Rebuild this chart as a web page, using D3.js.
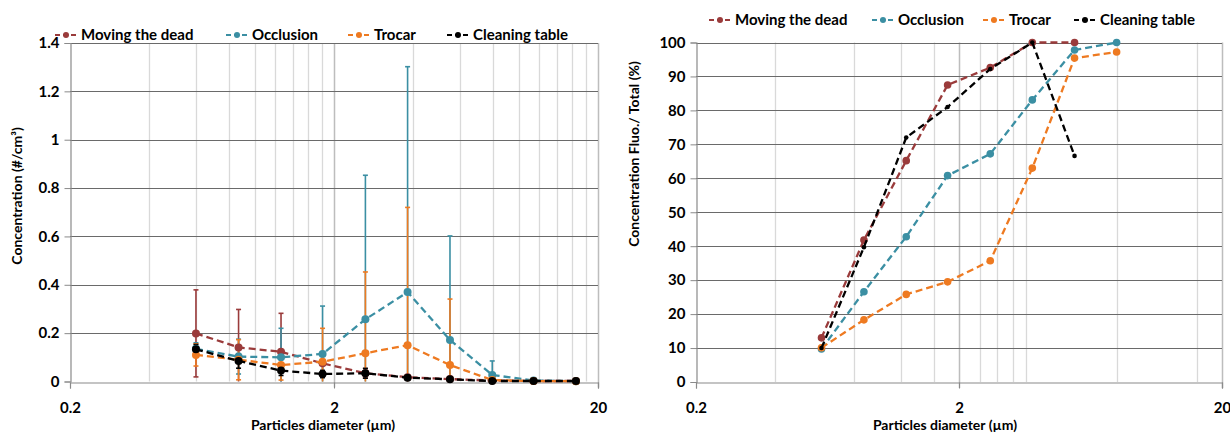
<!DOCTYPE html>
<html>
<head>
<meta charset="utf-8">
<script src="https://cdn.jsdelivr.net/npm/d3@7"></script>
<style>
  html, body { margin: 0; padding: 0; background: #fff; }
  svg { display: block; }
  text { font-family: Lato, "Open Sans", sans-serif; font-weight: 700; fill: #000; }
</style>
</head>
<body>
<svg id="chart" width="1230" height="433"></svg>
<script>
// Particle size bins (µm)
const diameters = [0.6, 0.87, 1.26, 1.81, 2.63, 3.8, 5.5, 7.95, 11.4, 16.5];

// Series names
const seriesNames = ["Moving the dead", "Occlusion", "Trocar", "Cleaning table"];

// Number concentration (#/cm³) per bin
const concMoving    = [0.199, 0.141, 0.123, 0.075, 0.034, 0.018, 0.010, 0.004, 0.002, 0.002];
const concOcclusion = [0.135, 0.103, 0.100, 0.114, 0.257, 0.370, 0.172, 0.027, 0.004, 0.001];
const concTrocar    = [0.110, 0.090, 0.068, 0.082, 0.117, 0.150, 0.068, 0.006, 0.002, 0.001];
const concCleaning  = [0.133, 0.085, 0.045, 0.031, 0.034, 0.016, 0.009, 0.002, 0.002, 0.002];

// Standard deviations (error bars)
const errMoving    = [0.180, 0.157, 0.159, 0.040, 0.020, 0.010, 0.005, 0.002, 0.001, 0.001];
const errOcclusion = [0.025, 0.072, 0.120, 0.198, 0.596, 0.932, 0.430, 0.058, 0.003, 0.001];
const errTrocar    = [0.046, 0.083, 0.062, 0.138, 0.336, 0.570, 0.273, 0.004, 0.001, 0.001];
const errCleaning  = [0.020, 0.030, 0.020, 0.015, 0.020, 0.008, 0.005, 0.001, 0.001, 0.001];

// Fluorescent / total concentration ratio (%)
const pctMoving    = [13.0, 41.8, 65.2, 87.5, 92.6, 100, 100];
const pctOcclusion = [9.7, 26.6, 42.8, 60.8, 67.2, 83.1, 97.8, 100];
const pctTrocar    = [10.1, 18.3, 25.8, 29.5, 35.7, 63.0, 95.4, 97.2];
const pctCleaning  = [10.0, 39.7, 72.0, 81.0, 92.2, 100, 66.6];

// Axis ticks
const xMajorTicks = [0.2, 2, 20];
const xTickLabels = ["0.2", "2", "20"];
const xMinorLeft  = [0.4, 0.6, 0.8, 1.0, 1.2, 1.4, 1.6, 1.8, 4, 6, 8, 10, 12, 14, 16, 18];
const xMinorRight = [0.4, 0.8, 1.2, 1.6, 2.4, 2.8, 3.2, 3.6, 8, 16];
const yTicksLeft  = [0, 0.2, 0.4, 0.6, 0.8, 1, 1.2, 1.4];
const yTicksRight = [0, 10, 20, 30, 40, 50, 60, 70, 80, 90, 100];

const colors = ["#9a3b3b", "#3b8fa3", "#ee7a21", "#000000"];
const DASH = "7,4";

const svg = d3.select("#chart");

function drawFrame(g, x, y, yTicks, yFmt, yTitle, yTitlePos, xTitlePos) {
  const [x0, x1] = x.range();
  const [y0, y1] = y.range();

  // vertical gridlines
  g.append("g").selectAll("line").data(g.datum().minor).join("line")
    .attr("x1", d => Math.round(x(d)) + 0.5).attr("x2", d => Math.round(x(d)) + 0.5)
    .attr("y1", y1).attr("y2", y0)
    .attr("stroke", "#d9d9d9").attr("stroke-width", 1.3);
  g.append("g").selectAll("line").data(xMajorTicks.slice(1)).join("line")
    .attr("x1", d => Math.round(x(d)) + 0.5).attr("x2", d => Math.round(x(d)) + 0.5)
    .attr("y1", y1).attr("y2", y0 + 6)
    .attr("stroke", "#bdbdbd").attr("stroke-width", 1.5);

  // horizontal gridlines
  g.append("g").selectAll("line").data(yTicks.slice(1)).join("line")
    .attr("x1", x0).attr("x2", x1)
    .attr("y1", d => Math.round(y(d)) + 0.5).attr("y2", d => Math.round(y(d)) + 0.5)
    .attr("stroke", "#6a6a6a").attr("stroke-width", 1);

  // y axis
  const ya = d3.axisLeft(y).tickValues(yTicks).tickFormat(yFmt).tickSize(6).tickPadding(5);
  const gy = g.append("g").attr("transform", `translate(${Math.round(x0) + 0.5},0)`).call(ya);
  gy.select(".domain").attr("stroke", "#8a8a8a").attr("stroke-width", 1.2);
  gy.selectAll(".tick line").attr("stroke", "#8a8a8a");
  gy.selectAll(".tick text").attr("font-size", 15).attr("font-family", "Lato").attr("font-weight", 700).attr("fill", "#111");

  // x axis
  const xa = d3.axisBottom(x).tickValues(xMajorTicks).tickFormat((d, i) => xTickLabels[i]).tickSize(6).tickPadding(14);
  const gx = g.append("g").attr("transform", `translate(0,${Math.round(y0) + 0.5})`).call(xa);
  gx.select(".domain").attr("stroke", "#8a8a8a").attr("stroke-width", 1.2);
  gx.selectAll(".tick line").attr("stroke", "#8a8a8a");
  gx.selectAll(".tick text").attr("font-size", 15).attr("font-family", "Lato").attr("font-weight", 700).attr("fill", "#111");

  // titles
  g.append("text").attr("x", xTitlePos[0]).attr("y", xTitlePos[1])
    .attr("text-anchor", "middle").attr("font-size", 14).attr("fill", "#111")
    .text("Particles diameter (µm)");
  g.append("text")
    .attr("transform", `translate(${yTitlePos[0]},${yTitlePos[1]}) rotate(-90)`)
    .attr("text-anchor", "middle").attr("font-size", 14).attr("fill", "#111")
    .text(yTitle);
}

function drawLegend(g, startX, y, gaps) {
  let cx = startX;
  seriesNames.forEach((name, i) => {
    const lg = g.append("g").attr("transform", `translate(${cx},${y})`);
    lg.append("line").attr("x1", 0).attr("x2", 22).attr("y1", 0).attr("y2", 0)
      .attr("stroke", colors[i]).attr("stroke-width", 2).attr("stroke-dasharray", "5,3");
    lg.append("circle").attr("cx", 11).attr("cy", 0).attr("r", 3).attr("fill", colors[i]);
    lg.append("text").attr("x", 26).attr("y", 5).attr("font-size", 15).text(name);
    cx += gaps[i];
  });
}

/* ---------- Left panel: concentration with error bars ---------- */
const xL = d3.scaleLog().domain([0.2, 20]).range([70, 598]);
const yL = d3.scaleLinear().domain([0, 1.4]).range([381.5, 43]);
const gL = svg.append("g").datum({ minor: xMinorLeft });
drawFrame(gL, xL, yL, yTicksLeft, d => String(d), "Concentration (#/cm³)", [22, 196], [323, 430]);

const concSeries = [
  { v: concMoving, e: errMoving },
  { v: concOcclusion, e: errOcclusion },
  { v: concTrocar, e: errTrocar },
  { v: concCleaning, e: errCleaning }
];

const clampY = v => yL(Math.max(0, Math.min(1.4, v)));
concSeries.forEach((s, i) => {
  const pts = s.v.map((v, k) => ({ x: diameters[k], y: v, e: s.e[k] }));
  const eg = gL.append("g").attr("stroke", colors[i]).attr("stroke-width", 1.6);
  pts.forEach(p => {
    const px = xL(p.x);
    const top = clampY(p.y + p.e), bot = clampY(p.y - p.e);
    eg.append("line").attr("x1", px).attr("x2", px).attr("y1", top).attr("y2", bot);
    eg.append("line").attr("x1", px - 2.5).attr("x2", px + 2.5).attr("y1", top).attr("y2", top);
    if (p.y - p.e > 0) eg.append("line").attr("x1", px - 2.5).attr("x2", px + 2.5).attr("y1", bot).attr("y2", bot);
  });
});
concSeries.forEach((s, i) => {
  const pts = s.v.map((v, k) => [diameters[k], v]);
  gL.append("path").datum(pts)
    .attr("d", d3.line().x(d => xL(d[0])).y(d => yL(d[1])))
    .attr("fill", "none").attr("stroke", colors[i]).attr("stroke-width", 2.3)
    .attr("stroke-dasharray", DASH);
  gL.append("g").selectAll("circle").data(pts).join("circle")
    .attr("cx", d => xL(d[0])).attr("cy", d => yL(d[1])).attr("r", 4)
    .attr("fill", colors[i]);
});
drawLegend(gL, 55, 35, [171, 122, 99, 0]);

/* ---------- Right panel: fluorescent fraction ---------- */
const xR = d3.scaleLog().domain([0.2, 20]).range([696, 1222]);
const yR = d3.scaleLinear().domain([0, 100]).range([382, 42.5]);
const gR = svg.append("g").datum({ minor: xMinorRight });
drawFrame(gR, xR, yR, yTicksRight, d => String(d), "Concentration Fluo./ Total (%)", [639, 154], [945, 430]);

const pctSeries = [pctMoving, pctOcclusion, pctTrocar, pctCleaning];
pctSeries.forEach((vals, i) => {
  const pts = vals.map((v, k) => [diameters[k], v]);
  gR.append("path").datum(pts)
    .attr("d", d3.line().x(d => xR(d[0])).y(d => yR(d[1])))
    .attr("fill", "none").attr("stroke", colors[i]).attr("stroke-width", 2.3)
    .attr("stroke-dasharray", DASH);
  gR.append("g").selectAll("circle").data(pts).join("circle")
    .attr("cx", d => xR(d[0])).attr("cy", d => yR(d[1])).attr("r", i === 3 ? 2.3 : 3.8)
    .attr("fill", colors[i]);
});
drawLegend(gR, 709, 20, [163, 111, 91, 0]);
</script>
</body>
</html>
